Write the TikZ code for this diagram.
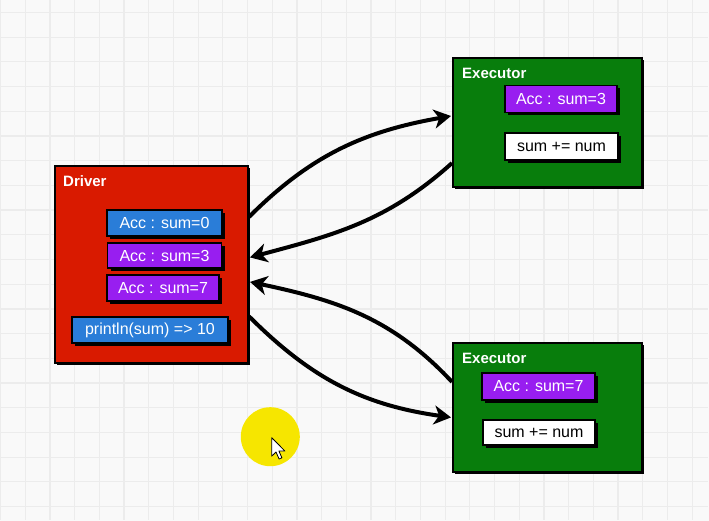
\documentclass[tikz,border=0pt]{standalone}
\usepackage{fontspec}
\setmainfont{Liberation Sans}
\usepackage{tikz}
\usetikzlibrary{arrows,arrows.meta,shadows,positioning}

\definecolor{drvred}{RGB}{217,26,0}
\definecolor{exegreen}{RGB}{8,125,12}
\definecolor{accblue}{RGB}{42,125,216}
\definecolor{accpurple}{RGB}{152,30,240}
\definecolor{hilite}{RGB}{246,230,0}
\definecolor{paper}{RGB}{249,249,249}
\definecolor{gridgray}{RGB}{236,236,236}

\begin{document}
\begin{tikzpicture}[x=1pt,y=-1pt,>={Stealth[length=17pt,width=19pt,inset=5pt]},shorten >=1pt]
\tikzstyle{frame}=[draw=black,line width=2pt,inner sep=0pt,
  drop shadow={shadow xshift=2pt,shadow yshift=-2pt,fill=black,opacity=1}]
\tikzstyle{cell}=[draw=black,line width=1.5pt,inner sep=0pt,text=white,
  font=\fontsize{16}{18}\selectfont,
  drop shadow={shadow xshift=3pt,shadow yshift=-3pt,fill=black,opacity=1}]
\tikzstyle{title}=[anchor=west,inner sep=0pt,text=white,font=\fontsize{15}{18}\selectfont\bfseries]
\tikzstyle{flow}=[draw,->,line width=4pt]
\useasboundingbox (0,0) rectangle (709,521);
% background grid
\fill[paper] (0,0) rectangle (709,521);
\foreach \i in {0,...,28}
  \draw[gridgray,line width=1.2pt] ({\i*24.7+0.5},0) -- ({\i*24.7+0.5},521);
\foreach \j in {0,...,21}
  \draw[gridgray,line width=1.2pt] (0,{\j*24.7+12.5}) -- (709,{\j*24.7+12.5});

% driver
\node[frame,fill=drvred,minimum width=193pt,minimum height=196pt] (D) at (151.5,264.5) {};
\node[title] (Dt) at (63,181) {Driver};
\node[cell,fill=accblue,minimum width=115pt,minimum height=26pt] (D0) at (164.5,223) {Acc : sum=0};
\node[cell,fill=accpurple,minimum width=114pt,minimum height=25pt] (D3) at (164.5,255.5) {Acc : sum=3};
\node[cell,fill=accpurple,minimum width=112pt,minimum height=26pt] (D7) at (163,288) {Acc : sum=7};
\node[cell,fill=accblue,minimum width=156pt,minimum height=26pt] (P) at (150,330) {println(sum) => 10};

% executors
\node[frame,fill=exegreen,minimum width=189pt,minimum height=129pt] (E1) at (547.5,122.5) {};
\node[title] (E1t) at (462,73) {Executor};
\node[cell,fill=accpurple,minimum width=112pt,minimum height=27pt] (A1) at (561,99) {Acc : sum=3};
\node[cell,fill=white,text=black,minimum width=113pt,minimum height=27pt] (S1) at (561.5,146.5) {sum += num};

\node[frame,fill=exegreen,minimum width=189pt,minimum height=129pt] (E2) at (547.5,407.5) {};
\node[title] (E2t) at (462,358) {Executor};
\node[cell,fill=accpurple,minimum width=113pt,minimum height=27pt] (A2) at (538.5,386.5) {Acc : sum=7};
\node[cell,fill=white,text=black,minimum width=112pt,minimum height=25pt] (S2) at (539,432.5) {sum += num};

\path (D.26) edge[flow,out=45,in=190] (E1.176)
      (E1.203) edge[flow,out=222,in=15] (D.4)
      (E2.165) edge[flow,out=133,in=-12] (D.-10)
      (D.-28) edge[flow,out=-45,in=172] (E2.186);

% pointer
\fill[hilite] (270.3,436.7) circle (29.5pt);
\draw[black,fill=white,line width=0.8pt,line join=round]
  (271.7,437.7) -- ++(0,18.5) -- ++(4.3,-4.2) -- ++(3.1,7) -- ++(2.8,-1.2)
  -- ++(-3,-6.8) -- ++(6,0) -- cycle;
\end{tikzpicture}
\end{document}
